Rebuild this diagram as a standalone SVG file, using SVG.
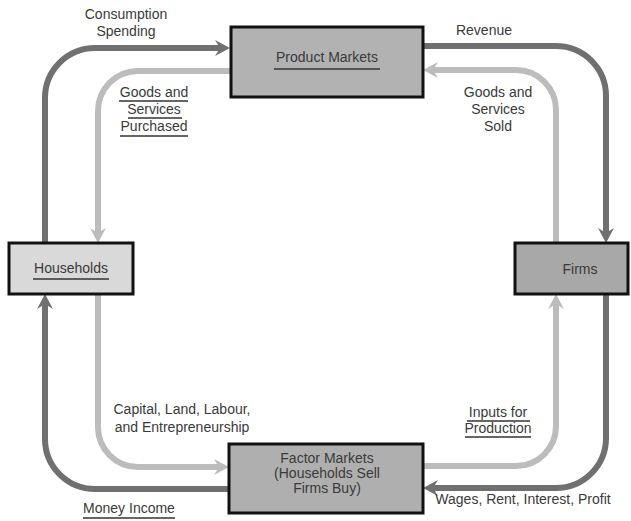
<svg xmlns="http://www.w3.org/2000/svg" width="631" height="521" viewBox="0 0 631 521">
<style>
.t{font-family:"Liberation Sans",Arial,sans-serif;font-size:14px;fill:#3a3a3a;text-anchor:middle}
.box{stroke:#111;stroke-width:3}
.dark{fill:none;stroke:#707070;stroke-width:6}
.light{fill:none;stroke:#bcbcbc;stroke-width:6}
.ul{stroke:#333;stroke-width:1.5}
</style>
<defs>
<marker id="ad" viewBox="-16 -9 17 18" refX="-9" refY="0" markerWidth="17" markerHeight="18" markerUnits="userSpaceOnUse" orient="auto" overflow="visible">
<path d="M0,0 L-15,-8 L-10,0 L-15,8 Z" fill="#707070"/>
</marker>
<marker id="al" viewBox="-16 -9 17 18" refX="-9" refY="0" markerWidth="17" markerHeight="18" markerUnits="userSpaceOnUse" orient="auto" overflow="visible">
<path d="M0,0 L-15,-8 L-10,0 L-15,8 Z" fill="#bcbcbc"/>
</marker>
</defs>
<rect width="631" height="521" fill="#fff"/>
<g id="connectors">
<path class="dark" d="M45,243 V98 A50,50 0 0 1 95,48 H221" marker-end="url(#ad)"/>
<path class="dark" d="M423,46 H556 A50,50 0 0 1 606,96 V234" marker-end="url(#ad)"/>
<path class="dark" d="M606,294 V438 A50,50 0 0 1 556,488 H432" marker-end="url(#ad)"/>
<path class="dark" d="M229,489 H95 A50,50 0 0 1 45,439 V303" marker-end="url(#ad)"/>
<path class="light" d="M231,71 H138 A40,40 0 0 0 98,111 V234" marker-end="url(#al)"/>
<path class="light" d="M98,294 V427 A40,40 0 0 0 138,467 H220" marker-end="url(#al)"/>
<path class="light" d="M423,466 H516 A40,40 0 0 0 556,426 V303" marker-end="url(#al)"/>
<path class="light" d="M556,243 V110 A40,40 0 0 0 516,70 H432" marker-end="url(#al)"/>
</g>
<g id="product-markets">
<rect class="box" x="231" y="27" width="192" height="70" fill="#b2b2b2"/>
<text class="t" x="327" y="62">Product Markets</text>
<line class="ul" x1="274" y1="69" x2="380" y2="69"/>
</g>
<g id="households">
<rect class="box" x="9" y="243" width="124" height="51" fill="#d9d9d9"/>
<text class="t" x="71" y="273">Households</text>
<line class="ul" x1="33" y1="279" x2="109" y2="279"/>
</g>
<g id="firms">
<rect class="box" x="515" y="243" width="113" height="51" fill="#a8a8a8"/>
<text class="t" x="580" y="274">Firms</text>
</g>
<g id="factor-markets">
<rect class="box" x="229" y="444" width="194" height="69" fill="#afafaf"/>
<text class="t" x="327" y="463">Factor Markets</text>
<text class="t" x="327" y="478">(Households Sell</text>
<text class="t" x="327" y="493">Firms Buy)</text>
</g>
<g id="labels">
<text class="t" x="126" y="19">Consumption</text>
<text class="t" x="126" y="36">Spending</text>
<text class="t" x="484" y="35">Revenue</text>
<text class="t" x="154" y="97">Goods and</text>
<line class="ul" x1="119" y1="101" x2="188" y2="101"/>
<text class="t" x="154" y="114">Services</text>
<line class="ul" x1="128" y1="118" x2="182" y2="118"/>
<text class="t" x="154" y="131">Purchased</text>
<line class="ul" x1="120" y1="136" x2="188" y2="136"/>
<text class="t" x="498" y="97">Goods and</text>
<text class="t" x="498" y="114">Services</text>
<text class="t" x="498" y="131">Sold</text>
<text class="t" x="182" y="414">Capital, Land, Labour,</text>
<text class="t" x="182" y="432">and Entrepreneurship</text>
<text class="t" x="498" y="417">Inputs for</text>
<line class="ul" x1="467" y1="421" x2="530" y2="421"/>
<text class="t" x="498" y="433">Production</text>
<line class="ul" x1="465" y1="437" x2="531" y2="437"/>
<text class="t" x="129" y="513">Money Income</text>
<line class="ul" x1="83" y1="518" x2="175" y2="518"/>
<text class="t" x="523" y="504">Wages, Rent, Interest, Profit</text>
</g>
</svg>
